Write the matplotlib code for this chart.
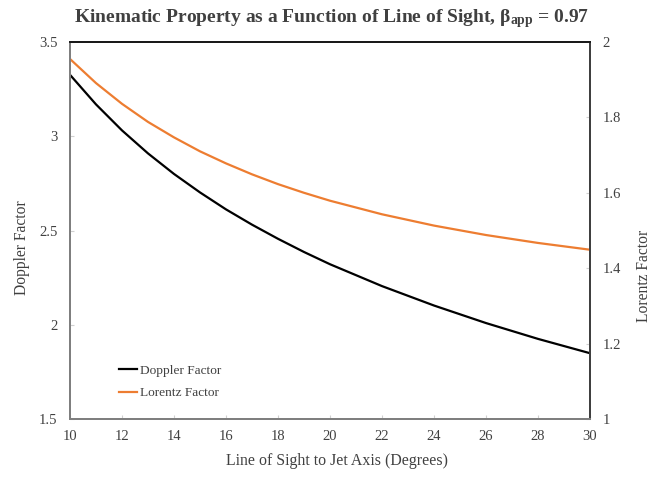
import matplotlib
matplotlib.use("Agg")
import matplotlib.pyplot as plt

plt.rcParams["font.family"] = ["Liberation Serif", "DejaVu Serif"]
plt.rcParams["mathtext.fontset"] = "custom"
plt.rcParams["mathtext.rm"] = "Liberation Serif"
plt.rcParams["mathtext.bf"] = "Liberation Serif:bold"
plt.rcParams["mathtext.default"] = "bf"

# values
angle = [10, 11, 12, 13, 14, 15, 16, 17, 18, 19, 20, 22, 24, 26, 28, 30]
doppler = [3.326, 3.169, 3.031, 2.909, 2.800, 2.702, 2.612, 2.531, 2.456, 2.386,
           2.321, 2.205, 2.102, 2.009, 1.925, 1.849]
lorentz = [1.955, 1.891, 1.836, 1.788, 1.747, 1.710, 1.678, 1.649, 1.623, 1.600,
           1.579, 1.543, 1.513, 1.488, 1.467, 1.449]

left_ticks = [1.5, 2, 2.5, 3, 3.5]
right_ticks = [1, 1.2, 1.4, 1.6, 1.8, 2]
x_ticks = [10, 12, 14, 16, 18, 20, 22, 24, 26, 28, 30]

text_col = "#404040"
orange = "#ED7D31"

fig = plt.figure(figsize=(6.65, 4.82), dpi=100)
ax = fig.add_axes([70 / 665, 1 - 419 / 482, (590 - 70) / 665, (419 - 42) / 482])
ax2 = ax.twinx()

l1, = ax.plot(angle, doppler, color="black", lw=1.6, label="Doppler Factor")
l2, = ax2.plot(angle, lorentz, color=orange, lw=1.6, label="Lorentz Factor")

ax.set_xlim(10, 30)
ax.set_ylim(1.5, 3.5)
ax2.set_ylim(1, 2)
ax.set_xticks(x_ticks)
ax.set_yticks(left_ticks)
ax.set_yticklabels(["1.5", "2", "2.5", "3", "3.5"])
ax2.set_yticks(right_ticks)
ax2.set_yticklabels(["1", "1.2", "1.4", "1.6", "1.8", "2"])

for a in (ax, ax2):
    a.tick_params(direction="in", length=3, color="#d0d0d0", labelsize=10.5,
                  labelcolor=text_col, pad=9)
    a.spines["left"].set_color("#7f7f7f")
    a.spines["bottom"].set_color("#7f7f7f")
    a.spines["right"].set_color("#404040")
    a.spines["top"].set_color("#1a1a1a")
    for s in a.spines.values():
        s.set_linewidth(1.4)
ax.tick_params(axis="x", pad=8)

# Excel places the axis titles a little off-centre
ax.set_xlabel("Line of Sight to Jet Axis (Degrees)", fontsize=11.4, color=text_col,
              labelpad=7, x=0.513)
ax.set_ylabel("Doppler Factor", fontsize=11.2, color=text_col, labelpad=6.5, y=0.454)
ax2.set_ylabel("Lorentz Factor", fontsize=11.2, color=text_col, labelpad=11, y=0.38)

fig.text(332 / 665, 1 - 19 / 482,
         r"Kinematic Property as a Function of Line of Sight, β$_{app}$ = 0.97",
         ha="center", va="center", fontsize=14, fontweight="bold", color=text_col)

ax.legend([l1, l2], ["Doppler Factor", "Lorentz Factor"], loc="lower left",
          bbox_to_anchor=(0.072, 0.02), frameon=False, fontsize=9.6,
          handlelength=1.35, handletextpad=0.2, labelspacing=0.75,
          labelcolor=text_col)

fig.savefig("out.png", dpi=100)
